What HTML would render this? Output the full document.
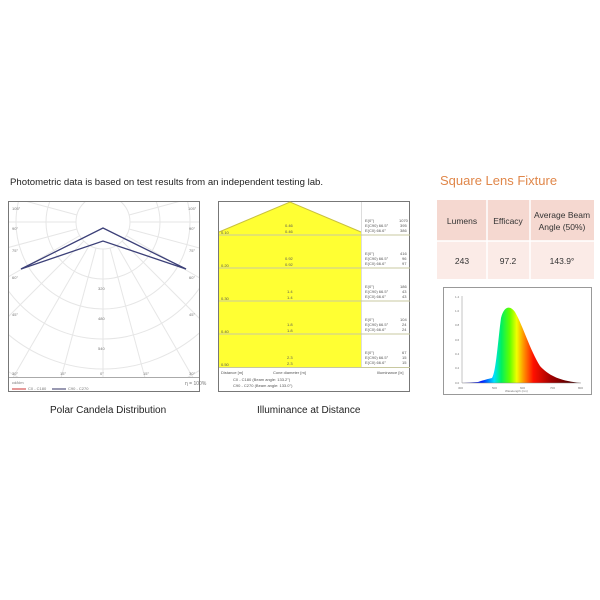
<!DOCTYPE html>
<html><head><style>
body{margin:0;width:600px;height:600px;background:#fff;font-family:"Liberation Sans",sans-serif;position:relative;overflow:hidden}
.t{position:absolute;white-space:nowrap}
</style></head><body>
<div class="t" style="left:10px;top:177px;font-size:9.6px;color:#222">Photometric data is based on test results from an independent testing lab.</div>
<div class="t" style="left:440px;top:173px;font-size:13px;color:#e0874a">Square Lens Fixture</div>

<svg width="600" height="600" style="position:absolute;left:0;top:0" font-family="Liberation Sans" >
<defs><clipPath id="pc"><rect x="9" y="202" width="190" height="175"/></clipPath>
<linearGradient id="sp" x1="462" x2="581" y1="0" y2="0" gradientUnits="userSpaceOnUse">
<stop offset="0" stop-color="#3a2a90"/><stop offset="0.17" stop-color="#0020ff"/><stop offset="0.27" stop-color="#00e0ff"/><stop offset="0.33" stop-color="#00f060"/><stop offset="0.4" stop-color="#60ff00"/><stop offset="0.46" stop-color="#f0ff00"/><stop offset="0.52" stop-color="#ff9000"/><stop offset="0.6" stop-color="#ff1000"/><stop offset="0.75" stop-color="#a00000"/><stop offset="1" stop-color="#300000"/></linearGradient></defs>
<!-- polar -->
<rect x="8.5" y="201.5" width="191" height="190" fill="#fff" stroke="#777"/>
<g clip-path="url(#pc)" stroke="#e6e6e6" fill="none" stroke-width="1">
<circle cx="103" cy="222" r="27"/><circle cx="103" cy="222" r="57"/><circle cx="103" cy="222" r="87"/><circle cx="103" cy="222" r="117"/><circle cx="103" cy="222" r="147"/><circle cx="103" cy="222" r="177"/>
<g transform="translate(103,222)">
<line x1="0" y1="27" x2="0" y2="200"/>
<line x1="7" y1="26" x2="52" y2="193"/><line x1="-7" y1="26" x2="-52" y2="193"/>
<line x1="13.5" y1="23" x2="100" y2="173"/><line x1="-13.5" y1="23" x2="-100" y2="173"/>
<line x1="19" y1="19" x2="141" y2="141"/><line x1="-19" y1="19" x2="-141" y2="141"/>
<line x1="23" y1="13.5" x2="173" y2="100"/><line x1="-23" y1="13.5" x2="-173" y2="100"/>
<line x1="26" y1="7" x2="193" y2="52"/><line x1="-26" y1="7" x2="-193" y2="52"/>
<line x1="27" y1="0" x2="200" y2="0"/><line x1="-27" y1="0" x2="-200" y2="0"/>
<line x1="26" y1="-7" x2="193" y2="-52"/><line x1="-26" y1="-7" x2="-193" y2="-52"/>
</g></g>
<line x1="9" y1="377.5" x2="199" y2="377.5" stroke="#aaa"/>
<g font-size="4" fill="#777">
<text x="12" y="210">105°</text><text x="188" y="210">105°</text>
<text x="12" y="230">90°</text><text x="189" y="230">90°</text>
<text x="12" y="252">75°</text><text x="189" y="252">75°</text>
<text x="12" y="279">60°</text><text x="189" y="279">60°</text>
<text x="12" y="316">45°</text><text x="189" y="316">45°</text>
<text x="12" y="375">30°</text><text x="189" y="375">30°</text>
<text x="60" y="375">15°</text><text x="100" y="375">0°</text><text x="143" y="375">15°</text>
<text x="98" y="290">320</text><text x="98" y="320">480</text><text x="98" y="350">540</text>
<text x="12" y="384">cd/klm</text><text x="185" y="385" font-size="5">η = 100%</text>
<text x="28" y="390">C0 - C180</text><text x="68" y="390">C90 - C270</text>
</g>
<line x1="12" y1="389" x2="26" y2="389" stroke="#c33"/><line x1="52" y1="389" x2="66" y2="389" stroke="#336"/>
<polyline points="21,269 103,228 186,269" fill="none" stroke="#3c4078" stroke-width="1.3"/>
<polyline points="21,269 103,241 186,269" fill="none" stroke="#3c4078" stroke-width="1.3"/>
<!-- illuminance -->
<rect x="218.5" y="201.5" width="191" height="190" fill="#fff" stroke="#777"/>
<polygon points="219,232 290,202 361,232 361,367 219,367" fill="#ffff33"/>
<polyline points="219,232 290,202 361,232" fill="none" stroke="#c8c040"/>
<line x1="361.5" y1="202" x2="361.5" y2="367" stroke="#ddd"/>
<g stroke="#c8c8a0"><line x1="219" y1="235" x2="410" y2="235"/><line x1="219" y1="268" x2="410" y2="268"/><line x1="219" y1="301" x2="410" y2="301"/><line x1="219" y1="334" x2="410" y2="334"/><line x1="219" y1="367.5" x2="410" y2="367.5"/></g>
<g font-size="4" fill="#555">
<text x="221" y="234">0.10</text><text x="285" y="227">0.46</text><text x="285" y="233">0.46</text>
<text x="221" y="267">0.20</text><text x="285" y="260">0.92</text><text x="285" y="266">0.92</text>
<text x="221" y="300">0.30</text><text x="287" y="293">1.4</text><text x="287" y="299">1.4</text>
<text x="221" y="333">0.40</text><text x="287" y="326">1.8</text><text x="287" y="332">1.8</text>
<text x="221" y="366">0.50</text><text x="287" y="359">2.3</text><text x="287" y="365">2.3</text>
<g><text x="365" y="222">E(0°)</text><text x="365" y="227">E(C90)  66.5°</text><text x="365" y="232">E(C0)   66.6°</text><text x="399" y="222">1070</text><text x="400" y="227">395</text><text x="400" y="232">386</text></g>
<g><text x="365" y="255">E(0°)</text><text x="365" y="260">E(C90)  66.5°</text><text x="365" y="265">E(C0)   66.6°</text><text x="400" y="255">416</text><text x="402" y="260">96</text><text x="402" y="265">97</text></g>
<g><text x="365" y="288">E(0°)</text><text x="365" y="293">E(C90)  66.5°</text><text x="365" y="298">E(C0)   66.6°</text><text x="400" y="288">186</text><text x="402" y="293">43</text><text x="402" y="298">43</text></g>
<g><text x="365" y="321">E(0°)</text><text x="365" y="326">E(C90)  66.5°</text><text x="365" y="331">E(C0)   66.6°</text><text x="400" y="321">104</text><text x="402" y="326">24</text><text x="402" y="331">24</text></g>
<g><text x="365" y="354">E(0°)</text><text x="365" y="359">E(C90)  66.5°</text><text x="365" y="364">E(C0)   66.6°</text><text x="402" y="354">67</text><text x="402" y="359">15</text><text x="402" y="364">15</text></g>
<text x="221" y="374">Distance [m]</text><text x="273" y="374">Cone diameter [m]</text><text x="377" y="374">Illuminance [lx]</text>
<text x="233" y="381">C0 - C180 (Beam angle: 133.2°)</text><text x="233" y="387">C90 - C270 (Beam angle: 133.0°)</text>
</g>
<!-- table -->
<rect x="437" y="200" width="157" height="41" fill="#f5d8d0"/>
<rect x="437" y="241" width="157" height="38" fill="#fbebe7"/>
<g stroke="#fff" stroke-width="1.5"><line x1="487" y1="200" x2="487" y2="279"/><line x1="530" y1="200" x2="530" y2="279"/><line x1="437" y1="241" x2="594" y2="241"/></g>
<g font-size="8.5" fill="#333" text-anchor="middle">
<text x="462" y="224">Lumens</text><text x="508" y="224">Efficacy</text>
<text x="562" y="218">Average Beam</text><text x="562" y="230">Angle (50%)</text>
<text x="462" y="264">243</text><text x="508" y="264">97.2</text><text x="562" y="264">143.9°</text></g>
<!-- spectrum -->
<rect x="443.5" y="287.5" width="148" height="107" fill="#fff" stroke="#999"/>
<path d="M462,383 L478,382 C484,380 488,379 492,378 C496,372 498,340 501,318 C504,306 510,305 515,312 C523,326 530,350 540,366 C550,377 562,381 581,383 Z" fill="url(#sp)"/>
<g stroke="#888" stroke-width="0.5"><line x1="462" y1="296" x2="462" y2="383"/><line x1="462" y1="383" x2="581" y2="383"/></g>
<g font-size="3" fill="#777"><text x="455" y="298">1.4</text><text x="455" y="312">1.0</text><text x="455" y="326">0.8</text><text x="455" y="341">0.6</text><text x="455" y="355">0.4</text><text x="455" y="369">0.2</text><text x="455" y="384">0.0</text>
<text x="458" y="389">300</text><text x="492" y="389">500</text><text x="520" y="389">600</text><text x="550" y="389">700</text><text x="578" y="389">800</text><text x="505" y="392">Wavelength (nm)</text></g>
</svg>
<div class="t" style="left:50px;top:405px;font-size:10px;color:#222">Polar Candela Distribution</div>
<div class="t" style="left:257px;top:405px;font-size:10px;color:#222">Illuminance at Distance</div>
</body></html>
